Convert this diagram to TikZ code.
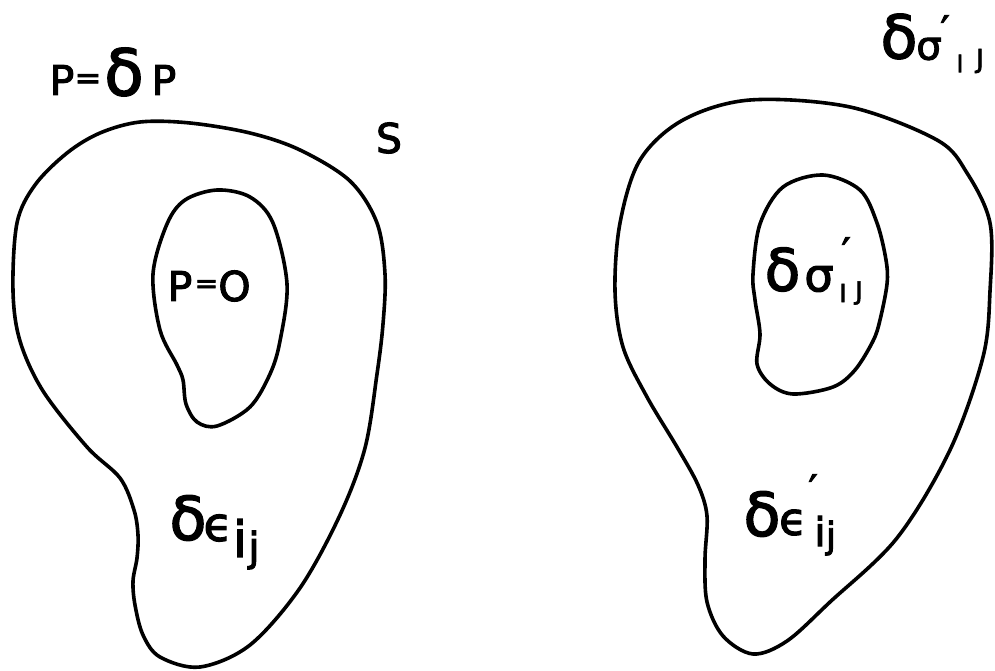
\documentclass[tikz,border=0pt]{standalone}
\usepackage{fontspec}
\setmainfont{DejaVu Sans}[FakeBold=2.5]
\newcommand\fsz[1]{\fontsize{#1}{#1}\selectfont}
\begin{document}
\begin{tikzpicture}[x=1pt,y=-1pt,
  blob/.style={line width=3.6pt, line join=round},
  glyph/.style={inner sep=0pt, outer sep=0pt, anchor=center}]
\useasboundingbox (0,0) rectangle (995,671);
% left outer boundary
\draw[blob] plot[smooth cycle, tension=0.55] coordinates {(140,122) (190,123) (250,133) (300,150) (350,181) (377,223) (385,274) (383,324) (377,374) (365,448) (340,515) (300,588) (250,645) (200,667) (160,657) (143,635) (135,605) (133,581) (137,558) (138,535) (134,510) (120,478) (87,447) (43,391) (20,341) (13,291) (17,223) (35,185) (67,153) (100,133)};
% left inner hole
\draw[blob] plot[smooth cycle, tension=0.55] coordinates {(217,190) (250,197) (273,223) (287,284) (280,341) (270,374) (250,407) (217,426) (197,422) (186,404) (183,380) (177,365) (160,330) (153,274) (167,224) (185,200)};
% right outer boundary
\draw[blob] plot[smooth cycle, tension=0.55] coordinates {(750,100) (850,107) (937,140) (967,173) (990,223) (990,291) (983,357) (950,450) (897,538) (830,602) (787,641) (753,654) (723,636) (707,602) (705,559) (707,516) (698,485) (677,447) (647,397) (623,347) (615,291) (620,223) (640,160) (683,120)};
% right inner hole
\draw[blob] plot[smooth cycle, tension=0.55] coordinates {(823,175) (860,190) (877,223) (886,260) (887,284) (880,320) (873,341) (855,370) (833,387) (793,394) (770,384) (757,364) (760,334) (755,300) (753,274) (760,224) (783,187)};
% label P = delta P
\node[glyph] (pa1) at (62,80) {\fsz{41}P};
\node[glyph] (pa2) at (88,81.5) {\fsz{32}=};
\node[glyph] (pa3) at (124,72) {\fsz{64}δ};
\node[glyph] (pa4) at (164,80) {\fsz{41}P};
% S
\node[glyph] (s) at (389,138) {\fsz{41}S};
% P = 0
\node[glyph] (pb1) at (180,286) {\fsz{41}P};
\node[glyph] (pb2) at (206.5,286.5) {\fsz{28}=};
\node[glyph] (pb3) at (234.5,286) {\fsz{41}O};
% delta eps_ij left
\node[glyph] (ea1) at (188,518) {\fsz{60}δ};
\node[glyph] (ea2) at (218,528) {\fsz{47}ϵ};
\node[glyph] (ea3) at (240,538) {\fsz{50}i};
\node[glyph] (ea4) at (254,550) {\fsz{40}j};
% delta sigma'_IJ top right
\node[glyph] (sa1) at (899,36.5) {\fsz{60}δ};
\node[glyph] (sa2) at (929,49) {\fsz{40}σ};
\node[glyph] (sa3) at (945,30) {\fsz{40}′};
\node[glyph] (sa4) at (960,63.5) {\fsz{24}I};
\node[glyph] (sa5) at (980,61) {\fsz{26}J};
% delta sigma'_IJ inner right
\node[glyph] (sb1) at (782.5,269.5) {\fsz{58}δ};
\node[glyph] (sb2) at (819,279) {\fsz{46}σ};
\node[glyph] (sb3) at (846,252) {\fsz{40}′};
\node[glyph] (sb4) at (843,293) {\fsz{25}I};
\node[glyph] (sb5) at (859,293) {\fsz{25}J};
% delta eps'_ij right
\node[glyph] (eb1) at (762,514) {\fsz{60}δ};
\node[glyph] (eb2) at (793,522.5) {\fsz{45}ϵ};
\node[glyph] (eb3) at (813,489) {\fsz{40}′};
\node[glyph] (eb4) at (820,531) {\fsz{40}i};
\node[glyph] (eb5) at (831,538) {\fsz{36}j};
\end{tikzpicture}
\end{document}
